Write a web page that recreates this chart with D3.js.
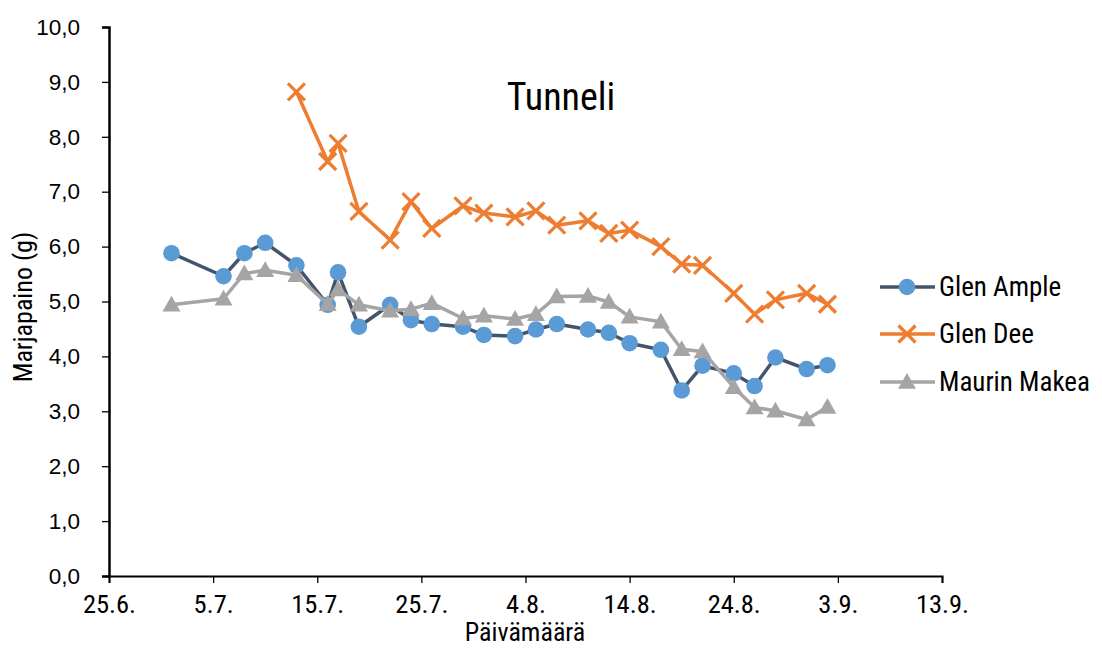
<!DOCTYPE html>
<html><head><meta charset="utf-8">
<script src="https://cdn.jsdelivr.net/npm/d3@7"></script>
<style>
body{margin:0;background:#fff;}
text{fill:#000;}
</style></head>
<body><svg id="c" width="1102" height="648"></svg>
<script>
const dates = ["1.7.","6.7.","8.7.","10.7.","13.7.","16.7.","17.7.","19.7.","22.7.","24.7.","26.7.","29.7.","31.7.","3.8.","5.8.","7.8.","10.8.","12.8.","14.8.","17.8.","19.8.","21.8.","24.8.","26.8.","28.8.","31.8.","2.9."];
const glenAmple = [5.88,5.46,5.88,6.07,5.66,4.94,5.53,4.54,4.94,4.66,4.59,4.54,4.39,4.37,4.49,4.59,4.49,4.43,4.24,4.12,3.38,3.83,3.69,3.46,3.98,3.77,3.84];
const glenDee = [null,null,null,null,8.82,7.55,7.88,6.64,6.12,6.82,6.33,6.74,6.61,6.54,6.65,6.39,6.47,6.24,6.30,6.00,5.68,5.66,5.15,4.77,5.03,5.15,4.95];
const maurinMakea = [4.94,5.05,5.51,5.57,5.48,4.95,5.22,4.94,4.83,4.86,4.97,4.69,4.74,4.68,4.77,5.09,5.10,4.99,4.72,4.63,4.13,4.09,3.44,3.07,3.01,2.85,3.08];
const xTickLabels = ["25.6.","5.7.","15.7.","25.7.","4.8.","14.8.","24.8.","3.9.","13.9."];
const yTicks = [0,1,2,3,4,5,6,7,8,9,10];
const seriesNames = ["Glen Ample","Glen Dee","Maurin Makea"];

const parse = d3.timeParse("%d.%m.");
const fmt = d3.timeFormat("%-d.%-m.");
const svg = d3.select("#c");
const narrow = "'Liberation Sans Narrow','Roboto Condensed','Liberation Sans',sans-serif";
const reg = "'Liberation Sans',Arial,sans-serif";

const x = d3.scaleTime().domain([parse(xTickLabels[0]), parse(xTickLabels[xTickLabels.length-1])]).range([109, 942]);
const y = d3.scaleLinear().domain([0,10]).range([576, 27]);

// axes
const xAxis = svg.append("g").attr("transform","translate(0,576)")
  .call(d3.axisBottom(x).tickValues(xTickLabels.map(parse)).tickFormat(fmt).tickSizeOuter(0).tickSize(7).tickPadding(11));
xAxis.select(".domain").attr("stroke","#000").attr("stroke-width",2);
xAxis.selectAll(".tick line").attr("stroke","#000").attr("stroke-width",1.3);
xAxis.selectAll(".tick text").attr("font-family",narrow).attr("font-size",26.5).attr("fill","#000");

const yAxis = svg.append("g").attr("transform","translate(109,0)")
  .call(d3.axisLeft(y).tickValues(yTicks).tickFormat(d=>d3.format(".1f")(d).replace(".",",")).tickSizeOuter(0).tickSize(7).tickPadding(22));
yAxis.select(".domain").attr("stroke","#000").attr("stroke-width",2.5);
yAxis.selectAll(".tick line").attr("stroke","#000").attr("stroke-width",1.3);
yAxis.selectAll(".tick text").attr("font-family",reg).attr("font-size",22.5).attr("fill","#000");

// titles
svg.append("text").attr("x",561).attr("y",110).attr("text-anchor","middle")
  .attr("font-family",narrow).attr("font-size",38).text("Tunneli");
svg.append("text").attr("x",525).attr("y",641).attr("text-anchor","middle")
  .attr("font-family",narrow).attr("font-size",26).text("Päivämäärä");
svg.append("text").attr("transform","translate(32,307) rotate(-90)").attr("text-anchor","middle")
  .attr("font-family",narrow).attr("font-size",26).text("Marjapaino (g)");

const cols = [{line:"#44546A",mark:"#5B9BD5"},{line:"#ED7D31",mark:"#ED7D31"},{line:"#A5A5A5",mark:"#A5A5A5"}];
const series = [glenAmple, glenDee, maurinMakea];
const line = d3.line().defined(d=>d.v!=null).x(d=>x(d.d)).y(d=>y(d.v));

function marker(g, kind, cx, cy){
  if(kind===0){
    g.append("circle").attr("cx",cx).attr("cy",cy).attr("r",8.3).attr("fill",cols[0].mark);
  } else if(kind===1){
    const s=8.5;
    g.append("path").attr("d",`M${cx-s},${cy-s}L${cx+s},${cy+s}M${cx-s},${cy+s}L${cx+s},${cy-s}`)
      .attr("stroke",cols[1].mark).attr("stroke-width",3.2).attr("fill","none");
  } else {
    const s=9;
    g.append("path").attr("d",`M${cx},${cy-s}L${cx+s},${cy+s*0.75}L${cx-s},${cy+s*0.75}Z`).attr("fill",cols[2].mark);
  }
}

series.forEach((vals,i)=>{
  const data = dates.map((d,j)=>({d:parse(d),v:vals[j]}));
  const g = svg.append("g");
  g.append("path").datum(data).attr("d",line).attr("fill","none")
    .attr("stroke",cols[i].line).attr("stroke-width",3.5).attr("stroke-linejoin","round");
  data.filter(p=>p.v!=null).forEach(p=>marker(g,i,x(p.d),y(p.v)));
});

// legend
const ly = [287,334,382];
seriesNames.forEach((n,i)=>{
  const g = svg.append("g");
  g.append("line").attr("x1",880).attr("x2",935).attr("y1",ly[i]).attr("y2",ly[i])
    .attr("stroke",cols[i].line).attr("stroke-width",3.5);
  marker(g,i,907,ly[i]);
  g.append("text").attr("x",939).attr("y",ly[i]+9).attr("font-family",narrow).attr("font-size",27).text(n);
});
</script></body></html>
